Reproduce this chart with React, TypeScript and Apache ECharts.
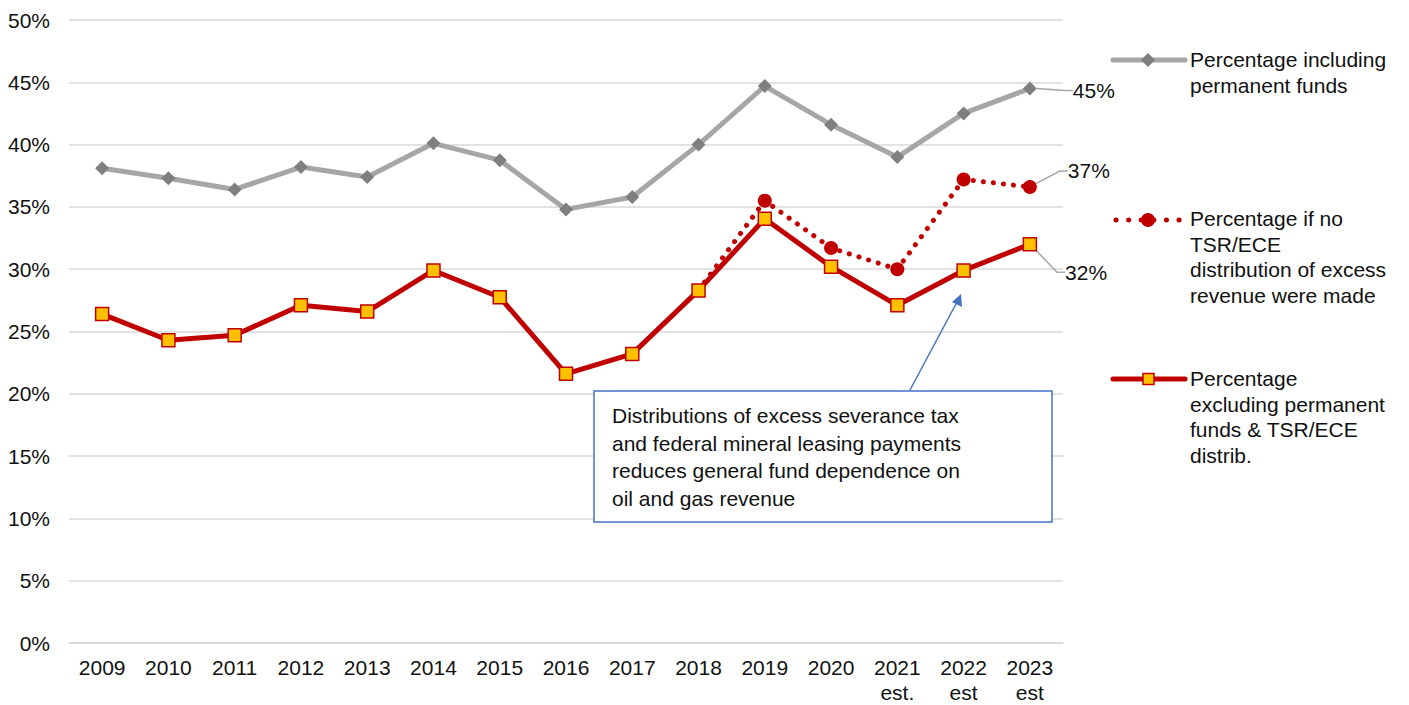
import React, { useEffect, useRef } from "react";
import * as echarts from "echarts";

const years = ["2009", "2010", "2011", "2012", "2013", "2014", "2015", "2016", "2017", "2018", "2019", "2020", "2021\nest.", "2022\nest", "2023\nest"];
const inclPermanent = [38.1, 37.3, 36.4, 38.2, 37.4, 40.1, 38.75, 34.8, 35.8, 40.0, 44.7, 41.6, 39.0, 42.5, 44.5];
const noDistribution: (number | null)[] = [null, null, null, null, null, null, null, null, null, 28.3, 35.5, 31.7, 30.0, 37.2, 36.6];
const exclPermanent = [26.4, 24.3, 24.7, 27.1, 26.6, 29.9, 27.75, 21.6, 23.2, 28.3, 34.05, 30.2, 27.1, 29.9, 32.0];
const yTicks = { min: 0, max: 50, interval: 5 };

const FONT = "'Liberation Sans', Arial, sans-serif";
const GRAY_LINE = "#A6A6A6";
const GRAY_MARK = "#7F7F7F";
const RED = "#C00000";
const GOLD = "#FFC000";
const BLUE = "#4472C4";
const TXT = "#111111";

const pctFmt = (p: any) => Math.round(p.value) + "%";

function lastLabel(values: (number | null)[], distance: number, first?: boolean) {
  return values.map((v, i) => {
    if (v == null) return "-";
    const item: any = { value: v };
    if (first && i === values.findIndex((x) => x != null)) item.symbol = "none";
    if (i === values.length - 1) {
      item.label = { show: true, position: "right", distance, formatter: pctFmt, fontSize: 21, fontFamily: FONT, color: TXT };
    }
    return item;
  });
}

export default function App() {
  const ref = useRef<HTMLDivElement>(null);
  useEffect(() => {
    const chart = echarts.init(ref.current!, null, { renderer: "svg" });
    const legendText = (x: number, y: number, text: string) => ({
      type: "text",
      left: x,
      top: y,
      style: { text, font: `21px ${FONT}`, fill: TXT, lineHeight: 25.5 },
    });
    const leader = { show: true, length2: 8, lineStyle: { color: GRAY_LINE, width: 1.5 } };
    chart.setOption({
      animation: false,
      grid: { left: 69, right: 346, top: 20, bottom: 58, containLabel: false },
      xAxis: {
        type: "category",
        data: years,
        boundaryGap: true,
        axisLine: { lineStyle: { color: "#D9D9D9", width: 1.5 } },
        axisTick: { show: false },
        axisLabel: { color: TXT, fontSize: 21, fontFamily: FONT, margin: 12, lineHeight: 25, interval: 0 },
      },
      yAxis: {
        type: "value",
        min: yTicks.min,
        max: yTicks.max,
        interval: yTicks.interval,
        axisLine: { show: false },
        axisTick: { show: false },
        splitLine: { lineStyle: { color: "#D9D9D9", width: 1.5 } },
        axisLabel: { color: TXT, fontSize: 21, fontFamily: FONT, margin: 19, formatter: "{value}%" },
      },
      series: [
        {
          name: "Percentage including permanent funds",
          type: "line",
          data: lastLabel(inclPermanent, 36),
          symbol: "diamond",
          symbolSize: 14,
          itemStyle: { color: GRAY_MARK },
          lineStyle: { color: GRAY_LINE, width: 5 },
          labelLine: leader,
          labelLayout: { dy: 2 },
          z: 2,
        },
        {
          name: "Percentage if no TSR/ECE distribution of excess revenue were made",
          type: "line",
          data: lastLabel(noDistribution, 31, true),
          symbol: "circle",
          symbolSize: 14,
          itemStyle: { color: RED },
          lineStyle: { color: RED, width: 5, type: [0.1, 10], cap: "round" },
          labelLine: leader,
          labelLayout: { dy: -16 },
          z: 3,
        },
        {
          name: "Percentage excluding permanent funds & TSR/ECE distrib.",
          type: "line",
          data: lastLabel(exclPermanent, 28),
          symbol: "rect",
          symbolSize: 13,
          itemStyle: { color: GOLD, borderColor: RED, borderWidth: 1.5 },
          lineStyle: { color: RED, width: 5 },
          labelLine: leader,
          labelLayout: { dy: 28 },
          z: 4,
        },
      ],
      graphic: [
        // legend: gray
        { type: "line", shape: { x1: 1113, y1: 60, x2: 1185, y2: 60 }, style: { stroke: GRAY_LINE, lineWidth: 5, lineCap: "round" } },
        { type: "polygon", shape: { points: [[1148, 53], [1155, 60], [1148, 67], [1141, 60]] }, style: { fill: GRAY_MARK } },
        legendText(1190, 47, "Percentage including\npermanent funds"),
        // legend: dotted
        { type: "line", shape: { x1: 1116, y1: 220, x2: 1180, y2: 220 }, style: { stroke: RED, lineWidth: 5, lineCap: "round", lineDash: [0.1, 12.5] } },
        { type: "circle", shape: { cx: 1148, cy: 220, r: 7 }, style: { fill: RED } },
        legendText(1190, 206, "Percentage if no\nTSR/ECE\ndistribution of excess\nrevenue were made"),
        // legend: solid red
        { type: "line", shape: { x1: 1113, y1: 379, x2: 1185, y2: 379 }, style: { stroke: RED, lineWidth: 5, lineCap: "round" } },
        { type: "rect", shape: { x: 1143, y: 373.5, width: 11, height: 11 }, style: { fill: GOLD, stroke: RED, lineWidth: 1.5 } },
        legendText(1190, 366, "Percentage\nexcluding permanent\nfunds & TSR/ECE\ndistrib."),
        // annotation
        { type: "line", shape: { x1: 910, y1: 390, x2: 957, y2: 302 }, style: { stroke: BLUE, lineWidth: 1.5 }, z: 10 },
        { type: "polygon", shape: { points: [[961, 294], [962, 307], [952, 302]] }, style: { fill: BLUE }, z: 10 },
        { type: "rect", shape: { x: 594, y: 391, width: 458, height: 131 }, style: { fill: "#ffffff", stroke: BLUE, lineWidth: 1.5 }, z: 10 },
        {
          type: "text",
          left: 612,
          top: 402,
          z: 11,
          style: {
            text: "Distributions of excess severance tax\nand federal mineral leasing payments\nreduces general fund dependence on\noil and gas revenue",
            font: `21px ${FONT}`,
            fill: TXT,
            lineHeight: 27.5,
          },
        },
      ],
    });
    return () => chart.dispose();
  }, []);
  return <div ref={ref} style={{ position: "fixed", left: 0, top: 0, width: 1409, height: 705, background: "#fff" }} />;
}
